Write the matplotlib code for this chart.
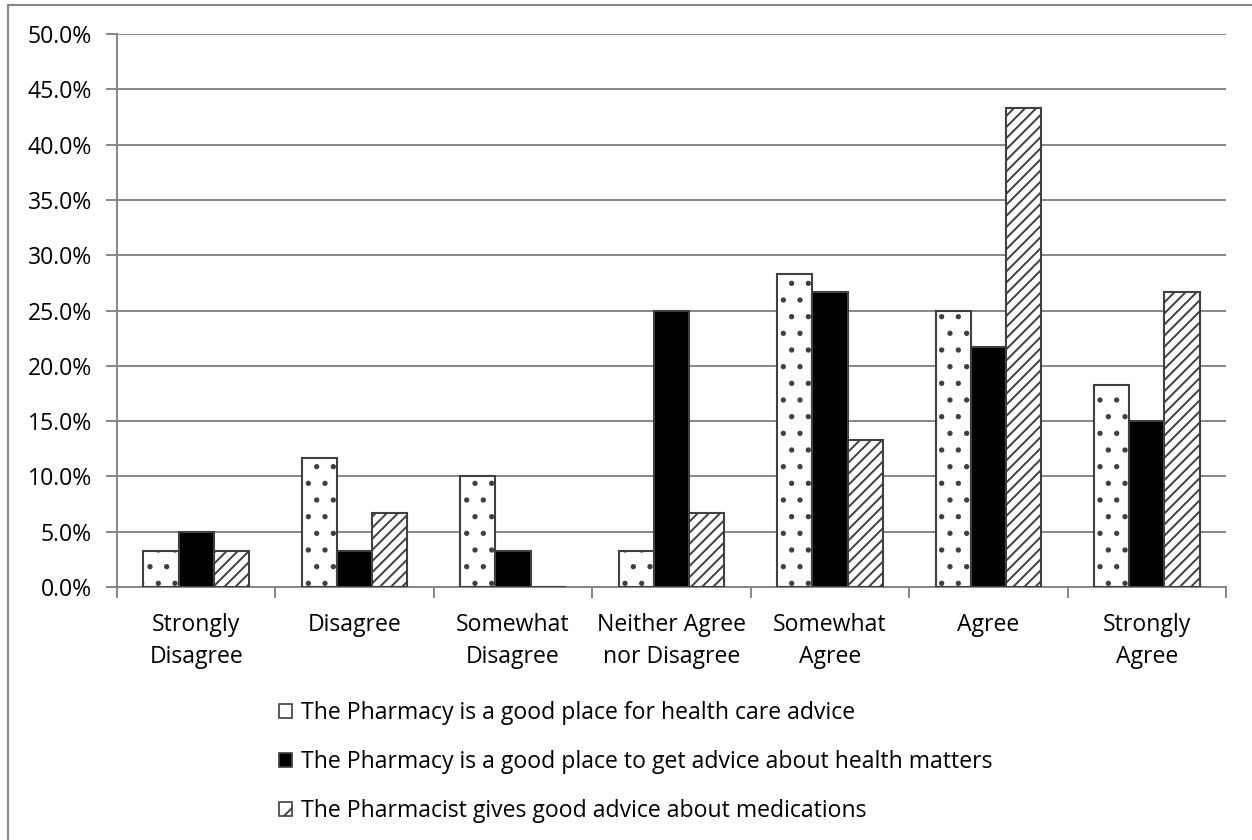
import matplotlib
matplotlib.use("Agg")
import matplotlib.pyplot as plt
import numpy as np
from matplotlib.patches import Patch
from matplotlib.lines import Line2D
from matplotlib.ticker import FuncFormatter, MultipleLocator

plt.rcParams['font.family'] = ['Open Sans', 'DejaVu Sans']
plt.rcParams['hatch.linewidth'] = 1.4

categories = ['Strongly\nDisagree', 'Disagree', 'Somewhat\nDisagree',
              'Neither Agree\nnor Disagree', 'Somewhat\nAgree', 'Agree',
              'Strongly\nAgree']
care_advice = [3.3, 11.7, 10.0, 3.3, 28.3, 25.0, 18.3]
health_matters = [5.0, 3.3, 3.3, 25.0, 26.7, 21.7, 15.0]
medications = [3.3, 6.7, 0.0, 6.7, 13.3, 43.3, 26.7]
labels = ['The Pharmacy is a good place for health care advice',
          'The Pharmacy is a good place to get advice about health matters',
          'The Pharmacist gives good advice about medications']

grey = '#868686'
edge = '#404040'
fs = 16.6

fig = plt.figure(figsize=(12.52, 8.4), dpi=100)
ax = fig.add_axes([117 / 1252, 1 - 587 / 840, 1109 / 1252, 553 / 840])

x = np.arange(len(categories))
w = 0.222
ax.bar(x - w, care_advice, w, color='white', edgecolor=edge, linewidth=1.5,
       hatch='.', zorder=3)
ax.bar(x, health_matters, w, color='black', edgecolor=edge, linewidth=1.5,
       zorder=3)
ax.bar(x + w, medications, w, color='white', edgecolor=edge, linewidth=1.5,
       hatch='///', zorder=3)

ax.set_xlim(-0.5, 6.5)
ax.set_ylim(0, 50)
ax.yaxis.set_major_locator(MultipleLocator(5))
ax.yaxis.set_major_formatter(FuncFormatter(lambda v, p: f'{v:.1f}%'))
ax.grid(axis='y', color=grey, linewidth=1.4, zorder=0)

ax.set_xticks(x)
ax.set_xticklabels(categories, linespacing=1.4)
ax.set_xticks(np.arange(-0.5, 7, 1), minor=True)
ax.tick_params(axis='x', which='major', length=0, pad=19, labelsize=fs)
ax.tick_params(axis='x', which='minor', length=8, width=1.4, color=grey)
ax.tick_params(axis='y', length=8, width=1.4, color=grey, labelsize=fs, pad=10)

for s in ['top', 'right']:
    ax.spines[s].set_visible(False)
for s in ['left', 'bottom']:
    ax.spines[s].set_color(grey)
    ax.spines[s].set_linewidth(1.4)

handles = [Patch(facecolor='white', edgecolor=edge, linewidth=1.2),
           Patch(facecolor='black', edgecolor=edge, linewidth=1.2),
           Patch(facecolor='white', edgecolor=edge, linewidth=1.2, hatch='/')]
fig.legend(handles, labels, loc='upper left', bbox_to_anchor=(258 / 1252, 1 - 680 / 840),
           frameon=False, fontsize=fs, handlelength=0.56, handleheight=0.56,
           handletextpad=0.4, labelspacing=1.1)

# chart border (only top and left visible in the crop)
fig.add_artist(Line2D([8 / 1252, 1], [1 - 5 / 840, 1 - 5 / 840], color=grey, linewidth=1.5))
fig.add_artist(Line2D([8 / 1252, 8 / 1252], [0, 1 - 5 / 840], color=grey, linewidth=1.5))

fig.savefig('out.png', dpi=100)
